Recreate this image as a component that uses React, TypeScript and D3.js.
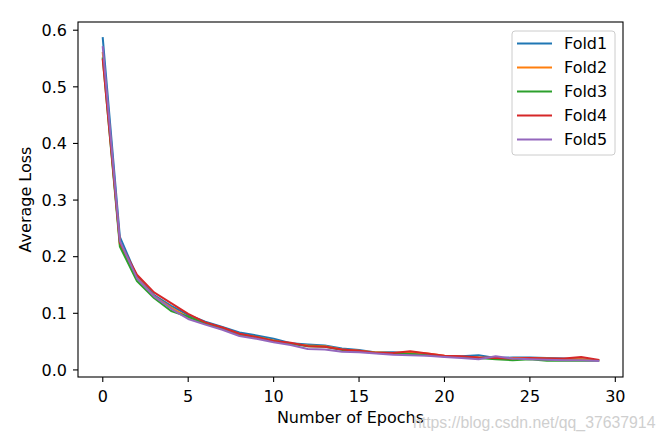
import React from "react";
import * as d3 from "d3";

const epochs = d3.range(0, 30);
const fold1 = [0.586, 0.235, 0.165, 0.132, 0.113, 0.097, 0.085, 0.076, 0.066, 0.061, 0.055, 0.047, 0.045, 0.043, 0.038, 0.035, 0.031, 0.031, 0.029, 0.027, 0.024, 0.024, 0.026, 0.021, 0.022, 0.022, 0.021, 0.020, 0.019, 0.017];
const fold2 = [0.560, 0.222, 0.163, 0.130, 0.110, 0.093, 0.083, 0.074, 0.063, 0.058, 0.052, 0.046, 0.043, 0.042, 0.036, 0.034, 0.031, 0.030, 0.031, 0.029, 0.025, 0.023, 0.022, 0.021, 0.021, 0.021, 0.020, 0.019, 0.019, 0.017];
const fold3 = [0.550, 0.218, 0.157, 0.127, 0.104, 0.094, 0.082, 0.073, 0.062, 0.058, 0.051, 0.046, 0.042, 0.041, 0.035, 0.033, 0.030, 0.029, 0.028, 0.026, 0.024, 0.023, 0.021, 0.019, 0.017, 0.019, 0.016, 0.016, 0.016, 0.016];
const fold4 = [0.548, 0.225, 0.168, 0.137, 0.118, 0.099, 0.084, 0.075, 0.064, 0.058, 0.051, 0.048, 0.042, 0.041, 0.036, 0.034, 0.030, 0.030, 0.033, 0.029, 0.025, 0.024, 0.022, 0.021, 0.020, 0.021, 0.020, 0.020, 0.023, 0.018];
const fold5 = [0.570, 0.228, 0.162, 0.130, 0.108, 0.090, 0.080, 0.071, 0.060, 0.055, 0.049, 0.044, 0.037, 0.036, 0.032, 0.031, 0.029, 0.027, 0.026, 0.025, 0.023, 0.021, 0.019, 0.024, 0.020, 0.019, 0.018, 0.017, 0.017, 0.016];

const seriesNames = ["Fold1", "Fold2", "Fold3", "Fold4", "Fold5"];
const seriesValues = [fold1, fold2, fold3, fold4, fold5];
const colors = ["#1f77b4", "#ff7f0e", "#2ca02c", "#d62728", "#9467bd"];
const xTicks = [0, 5, 10, 15, 20, 25, 30];
const yTicks = [0.0, 0.1, 0.2, 0.3, 0.4, 0.5, 0.6];

const W = 665, H = 442;
const L = 78, R = 623, T = 22, B = 377;
const FONT = "'DejaVu Sans', sans-serif";
const FS = 16;

export default function App() {
  const allVals = seriesValues.flat();
  const ymin = d3.min(allVals)!, ymax = d3.max(allVals)!;
  const ym = (ymax - ymin) * 0.05;
  const x = d3.scaleLinear().domain([-1.45, 30.45]).range([L, R]);
  const y = d3.scaleLinear().domain([ymin - ym, ymax + ym]).range([B, T]);
  const line = d3.line<number>().x((_, i) => x(epochs[i])).y((d) => y(d));

  const legX = 512, legY = 31, legW = 103, legH = 124;
  return (
    <svg width={W} height={H} style={{ position: "absolute", left: 0, top: 0, background: "#fff" }}>
      <rect x={0} y={0} width={W} height={H} fill="#fff" />
      <g>
        {seriesValues.map((vals, k) => (
          <path key={k} d={line(vals) || ""} fill="none" stroke={colors[k]} strokeWidth={2} strokeLinejoin="round" strokeLinecap="square" />
        ))}
      </g>
      <rect x={L} y={T} width={R - L} height={B - T} fill="none" stroke="#000" strokeWidth={1.1} />
      {xTicks.map((t) => (
        <g key={t}>
          <line x1={x(t)} x2={x(t)} y1={B} y2={B + 5} stroke="#000" strokeWidth={1.1} />
          <text x={x(t)} y={401.5} textAnchor="middle" fontFamily={FONT} fontSize={FS} fill="#000">{t}</text>
        </g>
      ))}
      {yTicks.map((t) => (
        <g key={t}>
          <line x1={L - 5} x2={L} y1={y(t)} y2={y(t)} stroke="#000" strokeWidth={1.1} />
          <text x={67} y={y(t) + 5.8} textAnchor="end" fontFamily={FONT} fontSize={FS} fill="#000">{t.toFixed(1)}</text>
        </g>
      ))}
      <text x={(L + R) / 2} y={423} textAnchor="middle" fontFamily={FONT} fontSize={FS} fill="#000">Number of Epochs</text>
      <text transform={`translate(31,${(T + B) / 2}) rotate(-90)`} textAnchor="middle" fontFamily={FONT} fontSize={FS} fill="#000">Average Loss</text>
      <rect x={legX} y={legY} width={legW} height={legH} rx={3} fill="#fff" fillOpacity={0.8} stroke="#cccccc" strokeWidth={1} />
      {seriesNames.map((n, k) => {
        const cy = 43.5 + k * 24;
        return (
          <g key={n}>
            <line x1={517} x2={552} y1={cy} y2={cy} stroke={colors[k]} strokeWidth={2} />
            <text x={564} y={cy + 5.8} fontFamily={FONT} fontSize={FS} fill="#000">{n}</text>
          </g>
        );
      })}
      <text x={413} y={428} fontFamily="'Liberation Sans', Arial, sans-serif" fontSize={15.8} fill="#cfcfcf">https://blog.csdn.net/qq_37637914</text>
    </svg>
  );
}
